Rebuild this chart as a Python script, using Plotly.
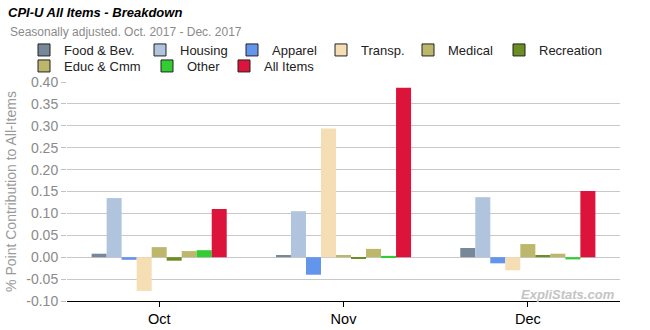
import plotly.graph_objects as go

# Months on the category axis
months = ["Oct", "Nov", "Dec"]

# Percentage-point contribution of each component to the All Items CPI change
food_bev   = [0.008, 0.005, 0.021]
housing    = [0.135, 0.105, 0.137]
apparel    = [-0.006, -0.040, -0.014]
transp     = [-0.077, 0.294, -0.030]
medical    = [0.023, 0.005, 0.030]
recreation = [-0.008, -0.004, 0.005]
educ_cmm   = [0.014, 0.019, 0.008]
other      = [0.016, 0.003, -0.005]
all_items  = [0.110, 0.387, 0.151]

series_names = ["Food & Bev.", "Housing", "Apparel", "Transp.", "Medical",
                "Recreation", "Educ & Cmm", "Other", "All Items"]
series_values = [food_bev, housing, apparel, transp, medical,
                 recreation, educ_cmm, other, all_items]
series_colors = ["#778899", "#B0C4DE", "#6495ED", "#F5DEB3", "#BDB76B",
                 "#6B8E23", "#BDB76B", "#32CD32", "#DC143C"]

y_ticks = [-0.10, -0.05, 0.00, 0.05, 0.10, 0.15, 0.20, 0.25, 0.30, 0.35, 0.40]

FONT = "Liberation Sans, Arial, sans-serif"
W, H = 650, 330

# Legend entry placement in pixels: (left edge of label text, row centre)
legend_slots = [(64, 50), (180, 50), (272, 50), (361, 50), (448, 50), (539, 50),
                (64, 66), (187, 66), (264, 66)]

fig = go.Figure()

# Bars (legend entries are drawn by separate bordered swatches below)
for name, vals, col in zip(series_names, series_values, series_colors):
    fig.add_trace(go.Bar(
        x=months, y=vals, name=name, marker=dict(color=col, line=dict(width=0)),
        showlegend=False, hoverinfo="x+y+name",
    ))

# One single-entry legend per series, swatch with a dark outline,
# kept on a hidden overlay axis so it does not take a bar slot
legend_layout = {}
for i, (name, col) in enumerate(zip(series_names, series_colors)):
    key = "legend" if i == 0 else f"legend{i + 1}"
    fig.add_trace(go.Bar(
        x=[None], y=[None], name=name, xaxis="x2", yaxis="y2", legend=key,
        marker=dict(color=col, line=dict(color="#222222", width=1)),
        showlegend=True, hoverinfo="skip",
    ))
    tx, ty = legend_slots[i]
    legend_layout[key] = dict(
        orientation="h", xref="container", yref="container",
        x=(tx - 40) / W, xanchor="left", y=1 - ty / H, yanchor="middle",
        font=dict(family=FONT, size=13, color="#222222"),
        bgcolor="rgba(0,0,0,0)", borderwidth=0,
        itemclick=False, itemdoubleclick=False,
    )

fig.update_layout(
    width=W, height=H,
    margin=dict(l=67, r=30, t=82, b=29, autoexpand=False),
    paper_bgcolor="white", plot_bgcolor="white",
    barmode="group", bargap=0.267, bargroupgap=0,
    font=dict(family=FONT, size=13, color="#333333"),
    title=dict(
        text="CPI-U All Items - Breakdown",
        font=dict(family=FONT, size=13, color="#000000", weight="bold", style="italic"),
        x=8 / W, xanchor="left", xref="container",
        y=1 - 12 / H, yanchor="middle", yref="container",
    ),
    xaxis=dict(
        type="category", showgrid=False, zeroline=False,
        showline=True, linecolor="#000000", linewidth=1,
        ticks="outside", ticklen=5, tickcolor="#000000", tickwidth=1,
        tickfont=dict(family=FONT, size=14.5, color="#000000"),
    ),
    yaxis=dict(
        range=[-0.10, 0.40], tickvals=y_ticks,
        ticktext=[f"{v:.2f}" for v in y_ticks],
        showgrid=True, gridcolor="#C8C8C8", gridwidth=1,
        zeroline=True, zerolinecolor="#C8C8C8", zerolinewidth=1,
        showline=False, ticks="outside", ticklen=5, tickcolor="#C0C0C0",
        tickfont=dict(family=FONT, size=14, color="#8A8A8A"),
        title=dict(text="% Point Contribution to All-Items",
                   font=dict(family=FONT, size=14, color="#9A9A9A"), standoff=6),
    ),
    xaxis2=dict(overlaying="x", visible=False, range=[0, 1]),
    yaxis2=dict(overlaying="y", visible=False, range=[0, 1]),
    **legend_layout,
)

fig.add_annotation(
    text="Seasonally adjusted. Oct. 2017 - Dec. 2017",
    xref="paper", yref="paper",
    x=(8 - 67) / 553, y=(330 - 29 - 32) / 219,
    showarrow=False, xanchor="left", yanchor="middle",
    font=dict(family=FONT, size=12, color="#8A8A8A"),
)

fig.add_annotation(
    text="<b><i>ExpliStats.com</i></b>",
    xref="paper", yref="paper",
    x=(617 - 67) / 553, y=(330 - 29 - 294) / 219,
    showarrow=False, xanchor="right", yanchor="middle",
    font=dict(family=FONT, size=13, color="#C4C4C4"),
)

fig.write_html("out.html")
